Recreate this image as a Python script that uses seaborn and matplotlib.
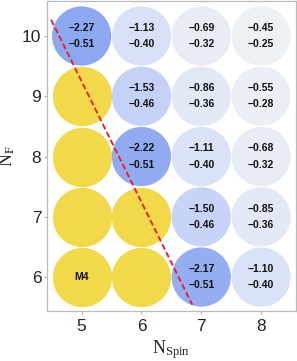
import numpy as np
import pandas as pd
import matplotlib.pyplot as plt
from matplotlib.colors import LinearSegmentedColormap, Normalize
import seaborn as sns

sns.set_theme(style="white")
plt.rcParams["font.family"] = ["Liberation Sans", "DejaVu Sans"]

# grid cells
n_spin = [5, 6, 7, 8, 6, 7, 8, 6, 7, 8, 7, 8, 7, 8]
n_f = [10, 10, 10, 10, 9, 9, 9, 8, 8, 8, 7, 7, 6, 6]
top_vals = [-2.27, -1.13, -0.69, -0.45, -1.53, -0.86, -0.55,
            -2.22, -1.11, -0.68, -1.50, -0.85, -2.17, -1.10]
bot_vals = [-0.51, -0.40, -0.32, -0.25, -0.46, -0.36, -0.28,
            -0.51, -0.40, -0.32, -0.46, -0.36, -0.51, -0.40]

# excluded (yellow) cells
ex_spin = [5, 5, 5, 5, 6, 6]
ex_f = [6, 7, 8, 9, 6, 7]
ex_label = ["M4", "", "", "", "", ""]

# dashed boundary line
line_x = [4.49, 6.85]
line_y = [10.27, 5.54]

df = pd.DataFrame({"spin": n_spin, "f": n_f, "top": top_vals, "bot": bot_vals})
ex = pd.DataFrame({"spin": ex_spin, "f": ex_f, "label": ex_label})
ln = pd.DataFrame({"x": line_x, "y": line_y})

cmap = LinearSegmentedColormap.from_list("blues", ["#8DA7F0", "#D2DCF9", "#EEF1F4"])
norm = Normalize(vmin=-2.27, vmax=-0.45)

fig = plt.figure(figsize=(2.97, 3.61), dpi=100)
ax = fig.add_axes([0.158, 0.139, 0.838, 0.858])

size = 1820
sns.scatterplot(data=ex, x="spin", y="f", color="#F2D94A", s=size,
                linewidth=0, ax=ax, legend=False, zorder=2)
sns.scatterplot(data=df, x="spin", y="f", hue="top", palette=cmap, hue_norm=norm,
                s=size, linewidth=0, ax=ax, legend=False, zorder=2)
sns.lineplot(data=ln, x="x", y="y", color="#E8202A", lw=1.4, ax=ax,
             linestyle=(0, (3, 1.6)), zorder=4)

for _, r in df.iterrows():
    ax.text(r["spin"], r["f"] + 0.135, f"\u2212{abs(r['top']):.2f}", ha="center",
            va="center", fontsize=7.5, fontweight="bold", color="#111111", zorder=5)
    ax.text(r["spin"], r["f"] - 0.135, f"\u2212{abs(r['bot']):.2f}", ha="center",
            va="center", fontsize=7.5, fontweight="bold", color="#111111", zorder=5)
for _, r in ex.iterrows():
    if r["label"]:
        ax.text(r["spin"], r["f"], r["label"], ha="center", va="center",
                fontsize=7.5, fontweight="bold", color="#111111", zorder=5)

ax.set_xlim(4.42, 8.58)
ax.set_ylim(5.44, 10.58)
ax.set_xticks([5, 6, 7, 8])
ax.set_yticks([6, 7, 8, 9, 10])
ax.tick_params(axis="both", direction="out", length=2.5, width=0.8, color="#AAAAAA",
               labelsize=12.5, bottom=True, left=True)
ax.tick_params(axis="y", pad=1.5)
ax.tick_params(axis="x", pad=3.5)
for s in ax.spines.values():
    s.set_color("#BBBBBB")
    s.set_linewidth(0.9)

ax.set_xlabel(r"$\mathregular{N_{Spin}}$", fontsize=13, family="Liberation Serif", labelpad=3)
ax.set_ylabel(r"$\mathregular{N_{F}}$", fontsize=13, family="Liberation Serif")
ax.yaxis.set_label_coords(-0.12, 0.5)

fig.savefig("out.png", dpi=100)
